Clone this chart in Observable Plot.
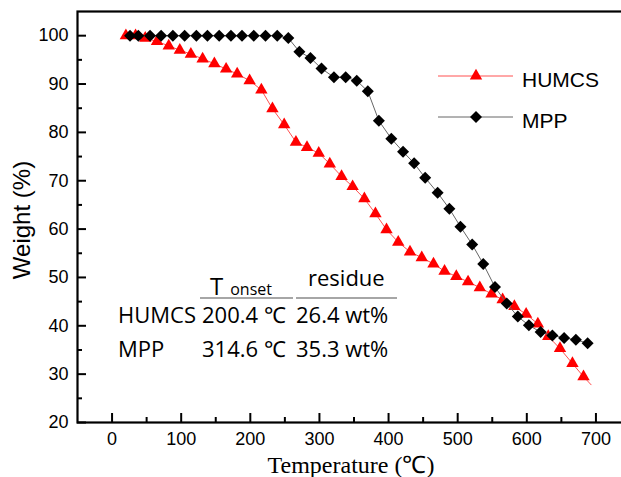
<!DOCTYPE html>
<html><head><meta charset="utf-8">
<script src="https://cdn.jsdelivr.net/npm/d3@7"></script>
<script src="https://cdn.jsdelivr.net/npm/@observablehq/plot@0.6"></script>
<style>body{margin:0;background:#fff} #chart svg{display:block}</style>
</head><body><div id="chart"></div>
<script>
// HUMCS (triangles, red)
const humcsT = [20, 34, 48, 65, 82, 98, 114, 131, 148, 165, 181, 199, 216, 232, 249, 266, 282, 299, 315, 332, 348, 365, 381, 397, 414, 431, 448, 465, 481, 498, 515, 532, 549, 565, 582, 599, 616, 631, 648, 666, 682, 693];
const humcsW = [100, 100, 99.5, 98.8, 97.9, 97.0, 96.2, 95.2, 94.2, 93.1, 92.1, 90.7, 88.8, 84.9, 81.6, 78.0, 76.9, 75.7, 73.5, 70.9, 68.8, 66.3, 63.2, 59.9, 57.3, 55.3, 54.1, 52.8, 51.3, 50.2, 49.1, 47.9, 46.6, 45.4, 44.0, 42.4, 40.4, 37.8, 35.3, 32.2, 29.5, 27.8];
const humcsMarkerCount = 41; // last line vertex has no marker
// MPP (diamonds, black)
const mppT = [26, 38, 55, 71, 88, 105, 122, 138, 155, 172, 188, 205, 222, 239, 255, 271, 287, 303, 321, 338, 354, 370, 386, 404, 421, 437, 453, 471, 488, 504, 521, 537, 554, 571, 587, 603, 620, 637, 654, 671, 688];
const mppW = [100, 100, 100, 100, 100, 100, 100, 100, 100, 100, 100, 100, 100, 100, 99.5, 96.7, 95.4, 93.2, 91.4, 91.4, 90.7, 88.5, 82.4, 78.7, 76.0, 73.6, 70.6, 67.5, 64.2, 60.5, 56.8, 52.8, 48.0, 44.6, 41.9, 40.1, 38.7, 38.0, 37.5, 37.1, 36.4];

const xMajor = [0, 100, 200, 300, 400, 500, 600, 700];
const xMinor = [50, 150, 250, 350, 450, 550, 650];
const yMajor = [20, 30, 40, 50, 60, 70, 80, 90, 100];
const yMinor = [25, 35, 45, 55, 65, 75, 85, 95];

const seriesNames = ["HUMCS", "MPP"];
const xLabel = "Temperature (℃)";
const yLabel = "Weight (%)";
const tableHead = ["T", "onset", "residue"];
const tableRows = [["HUMCS", "200.4 ℃", "26.4 wt%"], ["MPP", "314.6 ℃", "35.3 wt%"]];

const humcs = humcsT.map((t, i) => ({T: t, W: humcsW[i]}));
const humcsMarks = humcs.slice(0, humcsMarkerCount);
const mpp = mppT.map((t, i) => ({T: t, W: mppW[i]}));

const majorLen = 9, minorLen = 5;

const plot = Plot.plot({
  width: 621, height: 477,
  marginLeft: 77, marginTop: 11, marginBottom: 55, marginRight: -9,
  style: {fontFamily: "'Liberation Sans', Arial, sans-serif", fontSize: "18px", background: "#fff", color: "#000"},
  x: {domain: [-50, 750]},
  y: {domain: [20, 105]},
  marks: [
    Plot.axisX(xMajor, {tickSize: 0, tickPadding: 10, label: null, fontSize: 18}),
    Plot.axisY(yMajor, {tickSize: 0, tickPadding: 9, label: null, fontSize: 18}),
    // inward ticks: outward ticks shifted back inside the frame
    Plot.axisX(xMajor, {tickSize: majorLen, dy: -majorLen, text: null, label: null, stroke: "#000", strokeWidth: 2}),
    Plot.axisX(xMinor, {tickSize: minorLen, dy: -minorLen, text: null, label: null, stroke: "#000", strokeWidth: 2}),
    Plot.axisY(yMajor, {tickSize: majorLen, dx: majorLen, text: null, label: null, stroke: "#000", strokeWidth: 2}),
    Plot.axisY(yMinor, {tickSize: minorLen, dx: minorLen, text: null, label: null, stroke: "#000", strokeWidth: 2}),
    Plot.line(humcs, {x: "T", y: "W", stroke: "#ff5050", strokeWidth: 1}),
    Plot.dot(humcsMarks, {x: "T", y: "W", symbol: "triangle", r: 4.6, fill: "#ff0000", stroke: "none"}),
    Plot.line(mpp, {x: "T", y: "W", stroke: "#666", strokeWidth: 1}),
    Plot.dot(mpp, {x: "T", y: "W", symbol: "diamond2", r: 5.4, fill: "#000", stroke: "none"}),
    Plot.frame({stroke: "#000", strokeWidth: 2.2})
  ]
});
document.getElementById("chart").appendChild(plot);

const svg = d3.select(plot);
// legend
const legend = [
  {name: seriesNames[0], line: "#ff5050", fill: "#ff0000", sym: d3.symbolTriangle, size: 4.6 * 4.6 * Math.PI, y: 76, ty: 87},
  {name: seriesNames[1], line: "#666", fill: "#000", sym: d3.symbolDiamond2, size: 5.4 * 5.4 * Math.PI, y: 117, ty: 128}
];
const lg = svg.append("g").attr("text-anchor", "start");
legend.forEach(d => {
  lg.append("line").attr("x1", 438).attr("x2", 513).attr("y1", d.y).attr("y2", d.y).attr("stroke", d.line).attr("stroke-width", 1);
  lg.append("path").attr("d", d3.symbol(d.sym, d.size)()).attr("transform", `translate(476,${d.y})`).attr("fill", d.fill);
  lg.append("text").attr("x", 522).attr("y", d.ty).attr("font-size", 21).attr("font-family", "'Liberation Sans', Arial, sans-serif").text(d.name);
});
// axis titles
svg.append("text").attr("x", 351).attr("y", 473).attr("text-anchor", "middle")
  .attr("font-family", "'Liberation Serif', 'Times New Roman', serif").attr("font-size", 24).text(xLabel);
svg.append("text").attr("transform", "translate(30,220) rotate(-90)").attr("text-anchor", "middle")
  .attr("font-family", "'Liberation Sans', Arial, sans-serif").attr("font-size", 24).text(yLabel);
// inset table
const tf = "'Open Sans', sans-serif";
const tg = svg.append("g").attr("font-family", tf).attr("font-size", 22).attr("fill", "#000").attr("text-anchor", "start");
const th = tg.append("text").attr("x", 210).attr("y", 295);
th.append("tspan").attr("font-size", 24).text(tableHead[0]);
th.append("tspan").attr("font-size", 16).attr("dx", 7).text(tableHead[1]);
tg.append("text").attr("x", 308).attr("y", 286).text(tableHead[2]);
tg.append("line").attr("x1", 200).attr("x2", 293).attr("y1", 298).attr("y2", 298).attr("stroke", "#888").attr("stroke-width", 1.3);
tg.append("line").attr("x1", 296).attr("x2", 397).attr("y1", 298).attr("y2", 298).attr("stroke", "#888").attr("stroke-width", 1.3);
const rowY = [323, 357];
const colX = [118, 202, 296];
tableRows.forEach((r, i) => r.forEach((c, j) => {
  tg.append("text").attr("x", colX[j]).attr("y", rowY[i]).text(c);
}));
</script>
</body></html>
